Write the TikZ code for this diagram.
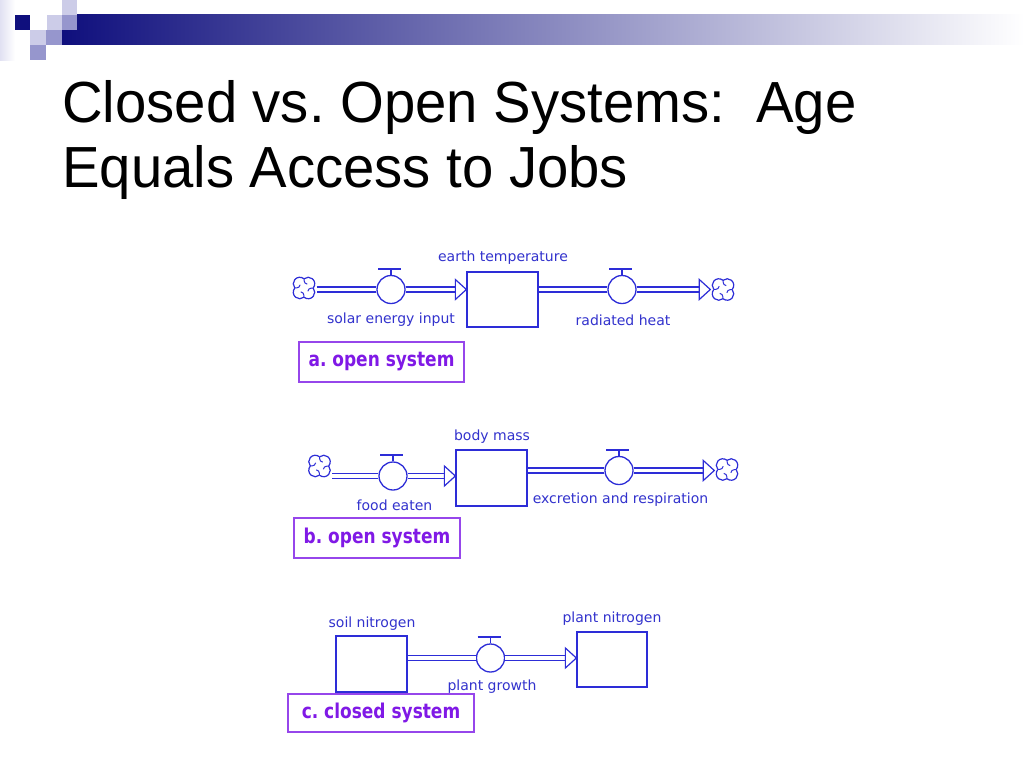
\documentclass[tikz,border=0pt]{standalone}
\usepackage{fontspec}
\setmainfont{Liberation Sans}
\newfontfamily\lblfont{DejaVu Sans}
\usepackage{graphicx}
\usetikzlibrary{calc}
\frenchspacing
\definecolor{flow}{RGB}{45,45,215}
\definecolor{lbltext}{RGB}{50,50,205}
\definecolor{systext}{RGB}{128,25,230}
\definecolor{sysborder}{RGB}{150,70,235}
\definecolor{navy}{RGB}{15,15,125}
\definecolor{barmid}{RGB}{145,145,170}
\definecolor{sqlight}{RGB}{204,204,232}
\definecolor{sqmed}{RGB}{150,150,205}
\definecolor{sqfaint}{RGB}{225,225,242}
\begin{document}
\begin{tikzpicture}[x=1pt,y=-1pt,
  stock/.style={draw=flow, line width=1.3pt, fill=white, inner sep=0pt},
  valve/.style={circle, draw=flow, line width=1.3pt, fill=white, minimum size=28pt, inner sep=0pt},
  pipe/.style={draw=flow, double=white, double distance=3.6pt, line width=1.3pt},
  lbl/.style={font=\lblfont\fontsize{14}{16}\selectfont, text=lbltext, inner sep=0pt, anchor=base},
  sysbox/.style={draw=sysborder, line width=1.2pt, text=systext, font=\lblfont\bfseries\fontsize{17}{20}\selectfont, inner sep=0pt},
  title/.style={font=\fontsize{58}{66}\selectfont, anchor=base west, inner sep=0pt},
  cloud/.pic={
    \foreach \t in {45,135,225,315}{
      \draw[flow, line width=1.2pt] (\t:6pt) ++(\t-85:6.5pt) arc[start angle=\t-85, end angle=\t+85, radius=6.5pt];
      \draw[flow, line width=1pt] (\t+45:9.2pt) .. controls (\t+45:5.5pt) and (\t+20:3.8pt) .. (\t+5:5pt);
    }
  },
  vhandle/.pic={
    \draw[flow, line width=1.2pt] (0,0) -- (0,-6);
    \draw[flow, line width=1.8pt] (-13,-6) -- (10,-6);
  },
  ahead/.pic={
    \filldraw[fill=white, draw=flow, line width=1.2pt] (0,0) -- (-11,-10) -- (-11,10) -- cycle;
  }
]
\fill[white] (0,0) rectangle (1024,768);
\useasboundingbox (0,0) rectangle (1024,768);

% decoration
\shade[left color=sqfaint, right color=white] (0,0) rectangle (15,60);
\shade[left color=navy, middle color=barmid, right color=white] (62,15) rectangle (1024,45);
\fill[sqlight] (62,0) rectangle (77,15);
\fill[navy] (15,15) rectangle (30,30);
\fill[sqlight] (47,15) rectangle (62,30);
\fill[sqmed] (62,15) rectangle (77,30);
\fill[sqlight] (30,30) rectangle (46,45);
\fill[sqmed] (46,30) rectangle (62,45);
\fill[sqmed] (30,45) rectangle (46,60);

% title
\node[title] (t1) at (62,122) {\scalebox{0.97}[1]{Closed vs. Open Systems:\ \ Age}};
\node[title] (t2) at (62,187) {\scalebox{0.97}[1]{Equals Access to Jobs}};

% ---------- a. open system ----------
\node[circle, minimum size=25pt, inner sep=0pt] (aL) at (304,288) {};
\node[valve] (aV1) at (391,289.5) {};
\node[stock, minimum width=71pt, minimum height=55pt] (aS) at (502.5,299.5) {};
\node[valve] (aV2) at (622,289.5) {};
\node[circle, minimum size=25pt, inner sep=0pt] (aR) at (723,289.5) {};
\draw[pipe] (aL.east |- aV1.west) -- (aV1.west);
\draw[pipe] (aV1.east) -- ($(aV1.east -| aS.west)+(-10,0)$);
\pic at (aV1.east -| aS.west) {ahead};
\draw[pipe] (aS.east |- aV2.west) -- (aV2.west);
\draw[pipe] (aV2.east) -- ($(aV2.east -| aR.west)+(-10,0)$);
\pic at (aV2.east -| aR.west) {ahead};
\pic at (aL.center) {cloud};
\pic at (aR.center) {cloud};
\pic at (aV1.north) {vhandle};
\pic at (aV2.north) {vhandle};
\node[lbl] (aSl) at (503,261) {earth temperature};
\node[lbl] (aV1l) at (391,323) {solar energy input};
\node[lbl] (aV2l) at (623,325) {radiated heat};
\node[sysbox, minimum width=165pt, minimum height=40pt] (aBox) at (381.5,362) {\scalebox{1}[1.2]{a. open system}};

% ---------- b. open system ----------
\node[circle, minimum size=25pt, inner sep=0pt] (bL) at (319.5,466) {};
\node[valve] (bV1) at (393,476) {};
\node[stock, minimum width=71pt, minimum height=56pt] (bS) at (491.5,478) {};
\node[valve] (bV2) at (619,470.5) {};
\node[circle, minimum size=25pt, inner sep=0pt] (bR) at (727,469.5) {};
\draw[pipe] (bL.east |- bV1.west) -- (bV1.west);
\draw[pipe] (bV1.east) -- ($(bV1.east -| bS.west)+(-10,0)$);
\pic at (bV1.east -| bS.west) {ahead};
\draw[pipe] (bS.east |- bV2.west) -- (bV2.west);
\draw[pipe] (bV2.east) -- ($(bV2.east -| bR.west)+(-10,0)$);
\pic at (bV2.east -| bR.west) {ahead};
\pic at (bL.center) {cloud};
\pic at (bR.center) {cloud};
\pic at (bV1.north) {vhandle};
\pic at (bV2.north) {vhandle};
\node[lbl] (bSl) at (492,440) {body mass};
\node[lbl] (bV1l) at (394.5,510) {food eaten};
\node[lbl] (bV2l) at (620.5,503) {excretion and respiration};
\node[sysbox, minimum width=166pt, minimum height=40pt] (bBox) at (377,538) {\scalebox{1}[1.2]{b. open system}};

% ---------- c. closed system ----------
\node[stock, minimum width=71pt, minimum height=56pt] (cS1) at (371.5,664) {};
\node[valve] (cV) at (490.5,658) {};
\node[stock, minimum width=70pt, minimum height=55pt] (cS2) at (612,659.5) {};
\draw[pipe] (cS1.east |- cV.west) -- (cV.west);
\draw[pipe] (cV.east) -- ($(cV.east -| cS2.west)+(-10,0)$);
\pic at (cV.east -| cS2.west) {ahead};
\pic at (cV.north) {vhandle};
\node[lbl] (cS1l) at (372,627) {soil nitrogen};
\node[lbl] (cS2l) at (612,622) {plant nitrogen};
\node[lbl] (cVl) at (492,690) {plant growth};
\node[sysbox, minimum width=186pt, minimum height=38pt] (cBox) at (381,713) {\scalebox{1}[1.2]{c. closed system}};
\end{tikzpicture}
\end{document}
